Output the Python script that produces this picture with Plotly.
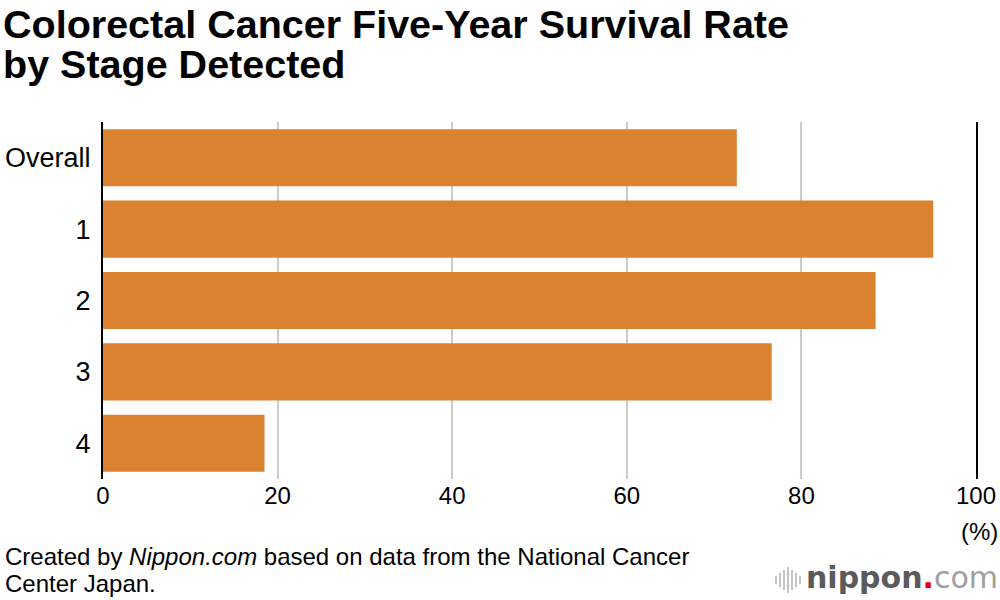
import plotly.graph_objects as go

categories = ["Overall", "1", "2", "3", "4"]
survival = [72.6, 95.1, 88.5, 76.6, 18.5]
x_ticks = [0, 20, 40, 60, 80, 100]
x_tick_labels = ["0", "20", "40", "60", "80", "100"]

W, H = 1000, 600
L, R, T, B = 103, 24, 122, 121
PW, PH = W - L - R, H - T - B

def px(xp):
    return (xp - L) / PW

def py(yp):
    return (H - B - yp) / PH

BAR = "#DB8231"
FONT = "Liberation Sans, Arial, Helvetica, sans-serif"

fig = go.Figure(go.Bar(
    x=survival, y=categories, orientation="h",
    marker=dict(color=BAR, line=dict(width=0)),
    hoverinfo="skip",
))

fig.update_layout(
    width=W, height=H,
    margin=dict(l=L, r=R, t=T, b=B),
    paper_bgcolor="white", plot_bgcolor="white",
    showlegend=False, bargap=0.2,
    font=dict(family=FONT, color="black", size=22),
    xaxis=dict(range=[0, 100], tickvals=x_ticks, ticktext=x_tick_labels,
               showgrid=True, gridcolor="#cccccc", gridwidth=2,
               zeroline=False, showline=False, ticks="", automargin=False,
               tickfont=dict(size=24, color="black", family=FONT), fixedrange=True),
    yaxis=dict(autorange="reversed", showgrid=False, zeroline=False,
               showline=True, linecolor="black", linewidth=2, mirror=True,
               ticks="", ticklabelstandoff=5, automargin=False,
               tickfont=dict(size=27, color="black", family=FONT), fixedrange=True),
)

ann = []
ann.append(dict(text="<b>Colorectal Cancer Five-Year Survival Rate</b>", x=px(1), y=py(24),
                xanchor="left", yanchor="middle", font=dict(size=39.5, family=FONT, color="black")))
ann.append(dict(text="<b>by Stage Detected</b>", x=px(1), y=py(64),
                xanchor="left", yanchor="middle", font=dict(size=39.5, family=FONT, color="black")))
ann.append(dict(text="(%)", x=px(1000), y=py(531), xanchor="right", yanchor="middle",
                font=dict(size=24, family=FONT, color="black")))
ann.append(dict(text="Created by <i>Nippon.com</i> based on data from the National Cancer", x=px(3), y=py(556),
                xanchor="left", yanchor="middle", font=dict(size=24, family=FONT, color="black")))
ann.append(dict(text="Center Japan.", x=px(3), y=py(583),
                xanchor="left", yanchor="middle", font=dict(size=24, family=FONT, color="black")))
ann.append(dict(text="<span style='color:#5a5a5a'><b>nippon</b></span><span style='color:#e60012'><b>.</b></span><span style='color:#a0a0a0'>com</span>",
                x=px(1000), y=py(577), xanchor="right", yanchor="middle",
                font=dict(size=30, family="DejaVu Sans, sans-serif")))
for a in ann:
    a.update(xref="paper", yref="paper", showarrow=False)
fig.update_layout(annotations=ann)

# logo sound-wave icon
bars = [(776, 8), (780, 14), (784, 20), (788, 26), (792, 20), (796, 14), (800, 8)]
shapes = []
for bx, bh in bars:
    shapes.append(dict(type="line", xref="paper", yref="paper",
                       x0=px(bx), x1=px(bx), y0=py(580 - bh / 2), y1=py(580 + bh / 2),
                       line=dict(color="#b0b0b0", width=1.5)))
fig.update_layout(shapes=shapes)

fig.write_html("out.html", config={"displayModeBar": False},
               post_script="document.body.style.margin='0px';")
